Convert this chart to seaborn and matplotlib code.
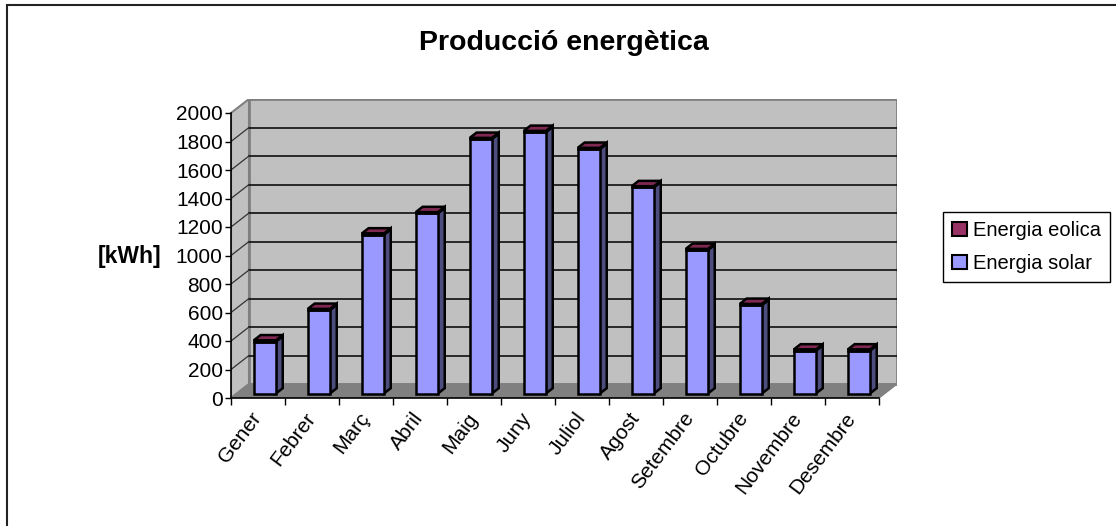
import numpy as np
import pandas as pd
import seaborn as sns
import matplotlib
matplotlib.use("Agg")
import matplotlib.pyplot as plt
from matplotlib.patches import Polygon, Rectangle, Patch

plt.rcParams['font.family'] = ['Liberation Sans', 'DejaVu Sans']

# ---- data ----
months = ["Gener", "Febrer", "Març", "Abril", "Maig", "Juny", "Juliol",
          "Agost", "Setembre", "Octubre", "Novembre", "Desembre"]
solar = [365, 586, 1115, 1265, 1786, 1835, 1716, 1447, 1007, 621, 301, 301]
eolica = [8, 8, 8, 8, 8, 8, 8, 8, 8, 8, 8, 8]
y_ticks = [0, 200, 400, 600, 800, 1000, 1200, 1400, 1600, 1800, 2000]
series_names = ["Energia eolica", "Energia solar"]
title = "Producció energètica"
y_label = "[kWh]"

# ---- style ----
c_solar, c_solar_side = "#9999ff", "#4d4d80"
c_eol, c_eol_side, c_eol_top = "#993366", "#4d1a33", "#7f2952"
wall, floor_c, border = "#c0c0c0", "#808080", "#808080"

W, H = 1116, 526
fig = plt.figure(figsize=(W / 100, H / 100), dpi=100)
ax = fig.add_axes([231 / W, (H - 398) / H, (897 - 231) / W, (398 - 99) / H])

ymax = y_ticks[-1]
n = len(months)
DX = 18 / 54.0                   # depth offset in category units
DY = 14 / 285.0 * ymax           # depth offset in value units
x0, x1 = -0.5, n - 0.5

# bars
df_s = pd.DataFrame({"Mes": months, "kWh": solar})
df_e = pd.DataFrame({"Mes": months, "kWh": eolica})
bw = 0.41
sns.barplot(data=df_s, x="Mes", y="kWh", color=c_solar, saturation=1, width=bw,
            edgecolor="black", linewidth=1.8, ax=ax, zorder=3)
solar_patches = list(ax.patches)[-n:]
sns.barplot(data=df_e, x="Mes", y="kWh", color=c_eol, saturation=1, width=bw,
            edgecolor="black", linewidth=1.8, ax=ax, zorder=3)
eol_patches = list(ax.patches)[-n:]

ax.set_xlim(x0, x1 + DX)
ax.set_ylim(0, ymax + DY)

# walls and floor
ax.add_patch(Polygon([(x0, 0), (x0 + DX, DY), (x0 + DX, ymax + DY), (x0, ymax)],
                     closed=True, facecolor=wall, edgecolor=border, lw=1.5, zorder=0))
ax.add_patch(Rectangle((x0 + DX, DY), x1 - x0, ymax, facecolor=wall,
                       edgecolor=border, lw=2, zorder=0))
ax.add_patch(Polygon([(x0, 0), (x1, 0), (x1 + DX, DY), (x0 + DX, DY)],
                     closed=True, facecolor=floor_c, edgecolor=floor_c, lw=1, zorder=0.5))
for v in y_ticks[1:-1]:
    ax.plot([x0 + DX, x1 + DX], [v + DY, v + DY], color="black", lw=1.1, zorder=1)
    ax.plot([x0, x0 + DX], [v, v + DY], color="#333333", lw=0.9, zorder=1)

f_front, f_depth = 0.32, 0.38
ox, oy = f_front * DX, f_front * DY
sdx, sdy = f_depth * DX, f_depth * DY

def add_faces(p, side_c, top_c=None):
    x, y, w, h = p.get_x(), p.get_y(), p.get_width(), p.get_height()
    ax.add_patch(Polygon([(x + w, y), (x + w + sdx, y + sdy), (x + w + sdx, y + h + sdy), (x + w, y + h)],
                         closed=True, facecolor=side_c, edgecolor="black", lw=1.8, zorder=2.9))
    if top_c is not None:
        ax.add_patch(Polygon([(x, y + h), (x + sdx, y + h + sdy), (x + w + sdx, y + h + sdy), (x + w, y + h)],
                             closed=True, facecolor=top_c, edgecolor="black", lw=1.8, zorder=2.9))

for ps, pe in zip(solar_patches, eol_patches):
    ps.set_x(ps.get_x() + ox + 0.02)
    ps.set_y(oy)
    pe.set_x(pe.get_x() + ox + 0.02)
    pe.set_y(oy + ps.get_height())
    add_faces(ps, c_solar_side)
    add_faces(pe, c_eol_side, c_eol_top)

# axes
for s in ["top", "right"]:
    ax.spines[s].set_visible(False)
ax.spines["left"].set_bounds(0, ymax)
ax.spines["bottom"].set_bounds(x0, x1)
for s in ["left", "bottom"]:
    ax.spines[s].set_color("black")
    ax.spines[s].set_linewidth(1.2)
    ax.spines[s].set_zorder(5)

ax.set_yticks(y_ticks)
ax.set_yticklabels([str(v) for v in y_ticks])
ax.tick_params(axis="y", direction="out", length=4, width=1, pad=2, labelsize=15)

ax.set_xticks(np.arange(n))
ax.set_xticks(np.arange(n + 1) - 0.5, minor=True)
ax.tick_params(axis="x", which="major", length=0, pad=12, labelsize=15)
ax.tick_params(axis="x", which="minor", length=5, width=1, direction="out")
ax.set_xticklabels(months, rotation=53, ha="right", rotation_mode="anchor", va="center")
ax.set_xlabel("")

ax.set_ylabel(y_label, rotation=0, fontsize=16.5, fontweight="bold", ha="center", va="center")
ax.yaxis.set_label_coords((130 - 231) / 666, (398 - 257) / 299)

ax.set_title(title, fontsize=20.5, fontweight="bold", y=(398 - 43) / 299, va="center", pad=0)

handles = [Patch(facecolor=c_eol, edgecolor="black", lw=1.5),
           Patch(facecolor=c_solar, edgecolor="black", lw=1.5)]
leg = fig.legend(handles, series_names, loc="center left",
                 bbox_to_anchor=(943 / W, (H - 247) / H), fontsize=14.5,
                 frameon=True, fancybox=False, edgecolor="black", framealpha=1,
                 handlelength=0.72, handleheight=0.72, handletextpad=0.3,
                 labelspacing=0.7, borderpad=0.45, borderaxespad=0)
leg.get_frame().set_linewidth(1)

# outer chart border
fig.patches.append(Rectangle((7 / W, -0.2), 1.5, (H - 5) / H + 0.2, transform=fig.transFigure,
                             fill=False, edgecolor="#222222", lw=1.5))

fig.savefig("out.png", dpi=100)
